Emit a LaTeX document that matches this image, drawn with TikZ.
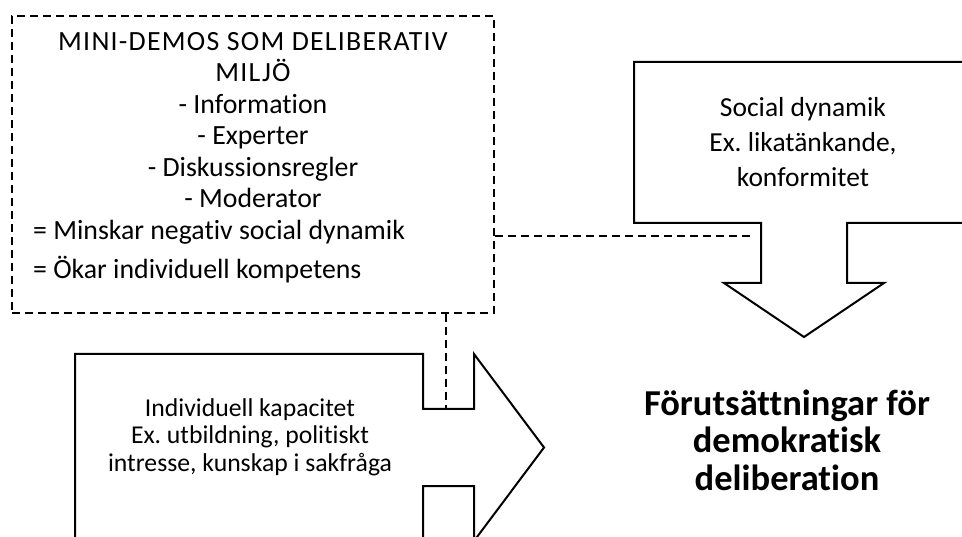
\documentclass[tikz,border=0pt]{standalone}
\usepackage{fontspec}
\setmainfont{Carlito}[Ligatures=NoCommon]
\frenchspacing
\newcommand\capsls{\addfontfeature{LetterSpace=4.5}}
\tikzstyle{outline}=[draw=black, line width=2pt, line join=miter]
\tikzstyle{dashline}=[draw=black, line width=1.5pt, dash pattern=on 8pt off 5pt]
\tikzstyle{lbl}=[inner sep=0pt, align=center]

\begin{document}
\begin{tikzpicture}[x=1pt, y=-1pt]
    \useasboundingbox (0,0) rectangle (962,537);
    \clip (0,0) rectangle (962,537);

    % mini-demos box
    \node [dashline, minimum width=482pt, minimum height=297pt, inner sep=0pt] (mini) at (253, 164.5) {};
    \node [lbl, font=\fontsize{27.8}{31.5}\selectfont] (miniTxt) at (253, 120) {{\capsls MINI-DEMOS SOM DELIBERATIV}\\{\capsls MILJÖ}\\- Information\\- Experter\\- Diskussionsregler\\- Moderator};
    \node [lbl, anchor=west, font=\fontsize{27.8}{31}\selectfont] (minsk) at (33, 232) {= Minskar negativ social dynamik};
    \node [lbl, anchor=west, font=\fontsize{27.8}{31}\selectfont] (okar) at (33, 270) {= Ökar individuell kompetens};

    % arrows
    \draw [outline] (634,62) -- (974,62) -- (974,223) -- (847,223) -- (847,283) -- (884,283)
        -- (804,337) -- (724,283) -- (761,283) -- (761,223) -- (634,223) -- cycle;
    \draw [outline] (75,354) -- (423,354) -- (423,409) -- (474,409) -- (474,354) -- (544,447.5)
        -- (474,541) -- (474,486) -- (423,486) -- (423,541) -- (75,541) -- cycle;
    \coordinate (socIn) at (753, 236);
    \coordinate (indIn) at (446, 409);

    \node [lbl, font=\fontsize{27.5}{35}\selectfont] (soc) at (803, 142) {Social dynamik\\Ex. likatänkande,\\konformitet};
    \node [lbl, font=\fontsize{25.7}{27.5}\selectfont] (ind) at (250, 437) {Individuell kapacitet\\Ex. utbildning, politiskt\\intresse, kunskap i sakfråga};
    \node [lbl, font=\fontsize{36.5}{37.5}\selectfont\bfseries] (res) at (787, 440) {Förutsättningar för\\demokratisk\\deliberation};

    \draw [dashline] (mini.east |- socIn) -- (socIn);
    \draw [dashline] (mini.south -| indIn) -- (indIn);
\end{tikzpicture}
\end{document}
